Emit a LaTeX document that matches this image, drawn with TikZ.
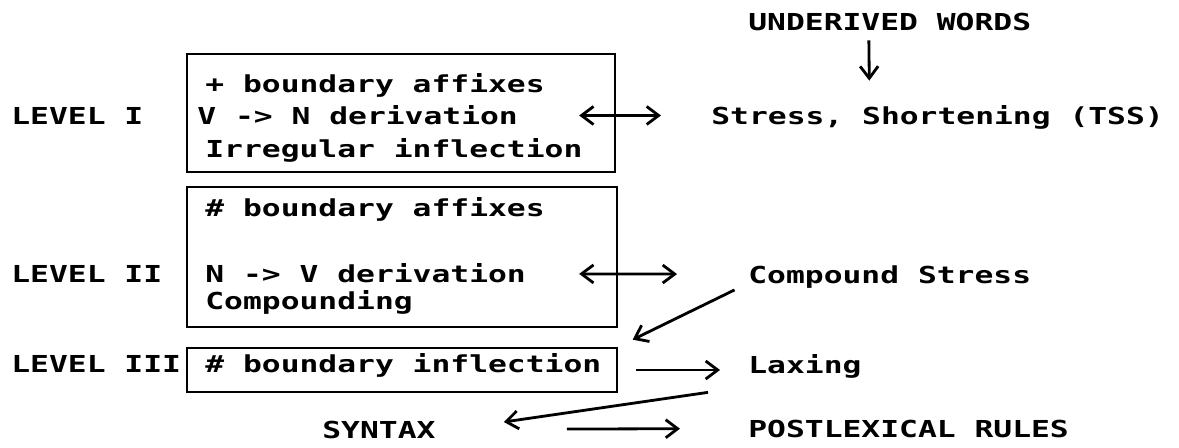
\documentclass[tikz,border=0pt]{standalone}
\usepackage{fontspec}
\setmainfont{DejaVu Sans Mono}[FakeStretch=1.34]
\usetikzlibrary{arrows.meta}
\begin{document}
\begin{tikzpicture}[x=0.02cm,y=-0.02cm,
  txt/.style={anchor=base west,inner sep=0pt,text height=9.7pt,text depth=0pt,
    font=\fontsize{13.3}{16}\selectfont\bfseries},
  levelbox/.style={draw,line width=1.5pt,inner sep=0pt},
  oneway/.style={line width=1.6pt,-{Straight Barb[length=2.4mm,width=3.6mm]}},
  twoway/.style={line width=1.6pt,{Straight Barb[length=2.4mm,width=3.6mm]}-{Straight Barb[length=2.4mm,width=3.6mm]}}]
\useasboundingbox (0,0) rectangle (1179,447);
\node[levelbox,minimum width=8.56cm,minimum height=2.36cm] (b1) at (401,113) {};
\node[levelbox,minimum width=8.6cm,minimum height=2.8cm] (b2) at (402,257) {};
\node[levelbox,minimum width=8.6cm,minimum height=0.88cm] (b3) at (402,370) {};
\node[txt] (lev1) at (11,124) {LEVEL I};
\node[txt] (lev2) at (11,282) {LEVEL II};
\node[txt] (lev3) at (11,372) {LEVEL III};
\node[txt] (t1a) at (205,92) {+ boundary affixes};
\node[txt] (t1b) at (197,124) {V -> N derivation};
\node[txt] (t1c) at (205,157) {Irregular inflection};
\node[txt] (t2a) at (205,216) {\# boundary affixes};
\node[txt] (t2b) at (205,282) {N -> V derivation};
\node[txt] (t2c) at (205,309) {Compounding};
\node[txt] (t3) at (205,372) {\# boundary inflection};
\node[txt] (under) at (748,30) {UNDERIVED WORDS};
\node[txt] (stress) at (711,124) {Stress, Shortening (TSS)};
\node[txt] (cstress) at (748,283) {Compound Stress};
\node[txt] (laxing) at (748,373) {Laxing};
\node[txt] (syntax) at (322,438) {SYNTAX};
\node[txt] (post) at (748,437) {POSTLEXICAL RULES};
\draw[oneway,shorten <=0.2cm,shorten >=0.52cm] ([xshift=-0.42cm]under.south) -- ([xshift=-1.36cm]stress.north);
\draw[twoway,shorten <=1.22cm,shorten >=1.0cm] (t1b) -- (stress);
\draw[twoway,shorten <=1.06cm,shorten >=1.42cm] (t2b) -- (cstress);
\draw[oneway,shorten <=0.3cm,shorten >=0.32cm] (cstress.south west) -- (b3.north east);
\draw[oneway,shorten <=0.36cm,shorten >=0.56cm] (b3.east) -- (b3.east -| laxing.west);
\draw[oneway] ([xshift=-0.8cm,yshift=-0.38cm]laxing.south west) -- ([xshift=1.36cm,yshift=0.15cm]syntax.east);
\draw[oneway,shorten <=2.62cm,shorten >=1.36cm] (syntax.east) -- (post.west);
\end{tikzpicture}
\end{document}
